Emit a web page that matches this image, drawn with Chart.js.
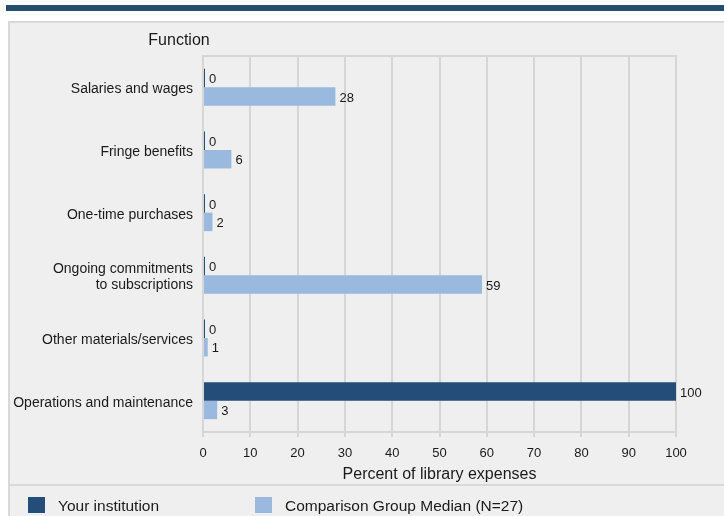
<!DOCTYPE html>
<html>
<head>
<meta charset="utf-8">
<script src="https://cdn.jsdelivr.net/npm/chart.js@4.4.0/dist/chart.umd.min.js"></script>
<style>
  html, body { margin: 0; padding: 0; background: #fff; }
  body { width: 724px; height: 516px; position: relative; overflow: hidden; font-family: "Liberation Sans", Arial, sans-serif; }
  #band { position: absolute; left: 6px; top: 5px; width: 718px; height: 6px; background: #234d79; }
  #panel { position: absolute; left: 8px; top: 21px; width: 716px; height: 495px; background: #efefef; border-left: 2px solid #d9d9d9; border-top: 2px solid #d9d9d9; box-sizing: border-box; }
  #sep { position: absolute; left: 8px; top: 484px; width: 716px; height: 2px; background: #d9d9d9; }
  #chartBox { position: absolute; left: 0; top: 0; width: 724px; height: 516px; }
  .leg { position: absolute; top: 497px; height: 17px; font-size: 15.5px; color: #1a1a1a; line-height: 17px; }
  .leg span { display: inline-block; width: 17px; height: 16px; vertical-align: top; margin-right: 13px; }
</style>
</head>
<body>
<div id="band"></div>
<div id="panel"></div>
<div id="sep"></div>
<div id="chartBox"><canvas id="myBarChart" width="724" height="516"></canvas></div>
<div class="leg" style="left:28px"><span style="background:#244e7a"></span>Your institution</div>
<div class="leg" style="left:255px"><span style="background:#9ab9de"></span>Comparison Group Median (N=27)</div>
<script>
const categories = [
  "Salaries and wages",
  "Fringe benefits",
  "One-time purchases",
  ["Ongoing commitments", "to subscriptions"],
  "Other materials/services",
  "Operations and maintenance"
];
const yourInstitution = [0, 0, 0, 0, 0, 100];
const groupMedian = [28, 6, 2, 59, 1, 3];
const xTicks = [0, 10, 20, 30, 40, 50, 60, 70, 80, 90, 100];

const gridColor = '#d6d6d6';
const fontFam = '"Liberation Sans", Arial, sans-serif';

// value labels at the end of each bar
const barLabels = {
  id: 'barLabels',
  afterDatasetsDraw(chart) {
    const ctx = chart.ctx;
    ctx.save();
    ctx.font = '13px ' + fontFam;
    ctx.fillStyle = '#1a1a1a';
    ctx.textAlign = 'left';
    ctx.textBaseline = 'middle';
    chart.data.datasets.forEach((ds, i) => {
      chart.getDatasetMeta(i).data.forEach((bar, j) => {
        ctx.fillText(ds.data[j], bar.x + 4, bar.y + 1.5);
      });
    });
    ctx.restore();
  }
};

// top border of plot area + "Function" axis caption
const frame = {
  id: 'frame',
  beforeDatasetsDraw(chart) {
    const ctx = chart.ctx, a = chart.chartArea;
    ctx.save();
    ctx.strokeStyle = gridColor;
    ctx.lineWidth = 2;
    ctx.beginPath();
    ctx.moveTo(a.left - 1, a.top);
    ctx.lineTo(a.right + 1, a.top);
    ctx.stroke();
    ctx.restore();
  },
  afterDraw(chart) {
    const ctx = chart.ctx;
    ctx.save();
    ctx.font = '16px ' + fontFam;
    ctx.fillStyle = '#1a1a1a';
    ctx.textAlign = 'center';
    ctx.textBaseline = 'middle';
    ctx.fillText('Function', 179, 41);
    ctx.restore();
  }
};

new Chart(document.getElementById('myBarChart'), {
  type: 'bar',
  data: {
    labels: categories,
    datasets: [{
      label: 'Your institution',
      data: yourInstitution,
      backgroundColor: '#244e7a',
      minBarLength: 2,
      categoryPercentage: 0.59,
      barPercentage: 1.0
    }, {
      label: 'Comparison Group Median (N=27)',
      data: groupMedian,
      backgroundColor: '#9ab9de',
      categoryPercentage: 0.59,
      barPercentage: 1.0
    }]
  },
  options: {
    indexAxis: 'y',
    responsive: false,
    animation: false,
    devicePixelRatio: 1,
    layout: {
      padding: { left: 8, top: 56, right: 48, bottom: 31 }
    },
    plugins: {
      legend: { display: false },
      tooltip: { enabled: false }
    },
    scales: {
      x: {
        min: 0,
        max: 100,
        afterBuildTicks: (scale) => { scale.ticks = xTicks.map(v => ({ value: v })); },
        afterFit: (scale) => { scale.height = 53; },
        grid: {
          color: gridColor,
          lineWidth: 2,
          drawTicks: true,
          tickLength: 5
        },
        border: { display: true, color: gridColor, width: 2 },
        ticks: {
          color: '#1a1a1a',
          padding: 9,
          maxRotation: 0,
          font: { size: 13, family: fontFam }
        },
        title: {
          display: true,
          text: 'Percent of library expenses',
          color: '#1a1a1a',
          padding: { top: 0, bottom: 1 },
          font: { size: 16, family: fontFam }
        }
      },
      y: {
        afterFit: (scale) => { scale.width = 195; },
        grid: { display: false, drawTicks: false },
        border: { display: false },
        ticks: {
          color: '#1a1a1a',
          padding: 10,
          labelOffset: 2,
          font: { size: 14, family: fontFam, lineHeight: 1.15 }
        }
      }
    }
  },
  plugins: [barLabels, frame]
});
</script>
</body>
</html>
